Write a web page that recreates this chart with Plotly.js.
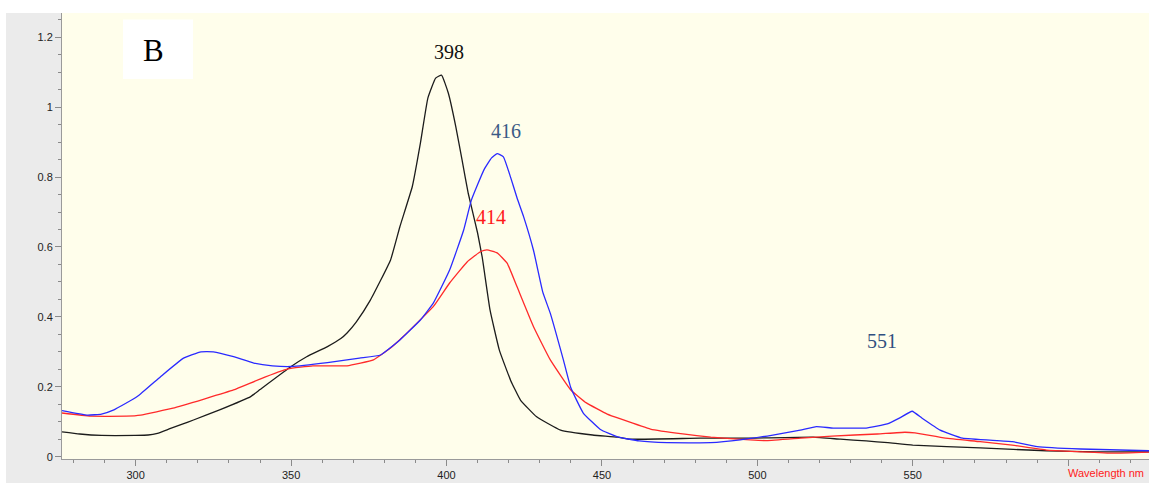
<!DOCTYPE html>
<html>
<head>
<meta charset="utf-8">
<script src="https://cdn.plot.ly/plotly-3.0.1.min.js"></script>
<style>html,body{margin:0;padding:0;background:#fff;}#chart{width:1149px;height:483px;}</style>
</head>
<body>
<div id="chart"></div>
<script>
// Wavelength (nm) and absorbance readings for each spectrum
const blackWl = [276.3,282,289,300,304,307,311,315,318.6,327,337,340,350,355,361.7,366,368,371,375.5,382,385,389,391.6,394,396.5,398.4,400.6,403,405,407,410,411.5,414,417,420.6,423.8,429,436.7,447,455,459,481.7,497.7,518,526.7,535,542,550,571.7,593,609,626];
const blackAbs = [0.071,0.065,0.061,0.061,0.062,0.067,0.080,0.093,0.105,0.134,0.172,0.192,0.258,0.286,0.315,0.338,0.354,0.386,0.448,0.563,0.658,0.773,0.897,1.026,1.083,1.092,1.040,0.944,0.849,0.753,0.640,0.570,0.420,0.305,0.219,0.162,0.114,0.076,0.062,0.056,0.050,0.053,0.053,0.056,0.050,0.045,0.040,0.033,0.025,0.017,0.014,0.014];

const blueWl = [276.3,284.5,289,293,300.5,308,315.4,321,325,331.5,338,344,350,361.7,372,378.8,385,391.6,395.8,401,405.5,408,412,414.5,416.3,418.3,420.6,422.7,424.8,428,431,433.4,437.6,440,444,449.5,455,462,471,485,494.5,505,513.8,519,524.4,535,541.8,546,549.8,553,558.8,566,582,590,604,626];
const blueAbs = [0.132,0.119,0.122,0.134,0.172,0.229,0.282,0.300,0.300,0.286,0.268,0.260,0.258,0.269,0.282,0.291,0.334,0.391,0.440,0.534,0.648,0.734,0.820,0.855,0.867,0.858,0.800,0.740,0.687,0.590,0.470,0.410,0.277,0.197,0.125,0.078,0.057,0.045,0.040,0.040,0.048,0.062,0.076,0.086,0.082,0.082,0.094,0.112,0.130,0.110,0.076,0.053,0.043,0.029,0.022,0.017];

const redWl = [276.3,285.5,297,301.6,312,322,331.5,340,349,357,368,376.5,382,386,395.8,401,406.7,411,413,416.3,419.5,422.7,428,433.4,440,445,451.7,456,465.6,476,485,497.7,503,514,524,538.6,547.5,550.7,560.5,571.7,582,593,604,614.5,626];
const redAbs = [0.125,0.116,0.116,0.119,0.139,0.165,0.191,0.222,0.251,0.260,0.260,0.277,0.311,0.343,0.430,0.497,0.558,0.587,0.592,0.583,0.554,0.486,0.372,0.277,0.191,0.154,0.122,0.108,0.079,0.065,0.056,0.048,0.046,0.053,0.059,0.065,0.070,0.068,0.053,0.043,0.033,0.019,0.014,0.010,0.013];

// Peak labels and where they sit
const peakLabels = ["398","416","414","551"];
const peakWl = [400.8,419.0,414.4,540.1];
const peakAbs = [1.158,0.932,0.687,0.331];
const peakColors = ["#111111","#3b5b86","#ff1a1a","#2f4f7f"];

// X tick labels
const xTickVals = [300,350,400,450,500,550,600];
const xTickText = ["300","350","400","450","500","550",""];

const W = 1149, H = 483;
const mL = 62, mR = 0, mT = 13, mB = 24;
const plotW = W - mL - mR, plotH = H - mT - mB;
function px2paperX(px){ return (px - mL) / plotW; }
function px2paperY(py){ return (H - mB - py) / plotH; }

const lineShape = {shape: 'spline', smoothing: 0.35};
const traces = [
  {x: blackWl, y: blackAbs, mode: 'lines', line: Object.assign({color: '#1c1c1c', width: 1.3}, lineShape), hoverinfo: 'skip'},
  {x: redWl, y: redAbs, mode: 'lines', line: Object.assign({color: '#ff2a2a', width: 1.3}, lineShape), hoverinfo: 'skip'},
  {x: blueWl, y: blueAbs, mode: 'lines', line: Object.assign({color: '#2a2aff', width: 1.3}, lineShape), hoverinfo: 'skip'}
];

const annotations = peakLabels.map((t, i) => ({
  x: peakWl[i], y: peakAbs[i], xref: 'x', yref: 'y', text: t, showarrow: false,
  font: {family: 'Liberation Serif, Times New Roman, serif', size: 20, color: peakColors[i]},
  xanchor: 'center', yanchor: 'middle'
}));
annotations.push({
  x: px2paperX(153.5), y: px2paperY(50), xref: 'paper', yref: 'paper', text: 'B', showarrow: false,
  font: {family: 'Liberation Serif, Times New Roman, serif', size: 31, color: '#000'},
  xanchor: 'center', yanchor: 'middle'
});
annotations.push({
  x: px2paperX(1146), y: px2paperY(473), xref: 'paper', yref: 'paper', text: 'Wavelength nm', showarrow: false,
  font: {family: 'Liberation Sans, Arial, sans-serif', size: 11, color: '#ff2020'},
  xanchor: 'right', yanchor: 'middle'
});

const shapes = [
  {type: 'rect', xref: 'paper', yref: 'paper', x0: px2paperX(123), x1: px2paperX(193), y0: px2paperY(79), y1: px2paperY(19.5), fillcolor: '#ffffff', line: {width: 0}, layer: 'above'},
  {type: 'rect', xref: 'paper', yref: 'paper', x0: px2paperX(0), x1: px2paperX(W), y0: px2paperY(13), y1: px2paperY(0), fillcolor: '#ffffff', line: {width: 0}},
  {type: 'rect', xref: 'paper', yref: 'paper', x0: px2paperX(0), x1: px2paperX(6), y0: px2paperY(H), y1: px2paperY(0), fillcolor: '#ffffff', line: {width: 0}}
];

const layout = {
  width: W, height: H,
  margin: {l: mL, r: mR, t: mT, b: mB, pad: 0},
  paper_bgcolor: '#ebebeb',
  plot_bgcolor: '#fffeeb',
  showlegend: false,
  font: {family: 'Liberation Sans, Arial, sans-serif', size: 11, color: '#222'},
  xaxis: {
    range: [276.3, 626.0], showgrid: false, zeroline: false,
    showline: true, linecolor: '#9a9a9a', linewidth: 1,
    ticks: 'outside', ticklen: 6, tickcolor: '#8a8a8a', tickwidth: 1,
    tickmode: 'array', tickvals: xTickVals, ticktext: xTickText,
    minor: {ticks: 'outside', ticklen: 3, tickcolor: '#8a8a8a', dtick: 10, tick0: 300, showgrid: false},
    tickfont: {size: 11, color: '#222'}
  },
  yaxis: {
    range: [-0.0066, 1.2695], showgrid: false, zeroline: false,
    showline: true, linecolor: '#9a9a9a', linewidth: 1,
    ticks: 'outside', ticklen: 6, tickcolor: '#8a8a8a', tickwidth: 1,
    tick0: 0, dtick: 0.2,
    minor: {ticks: 'outside', ticklen: 3, tickcolor: '#8a8a8a', dtick: 0.05, tick0: 0, showgrid: false},
    tickfont: {size: 11, color: '#222'}
  },
  annotations: annotations,
  shapes: shapes
};

Plotly.newPlot('chart', traces, layout, {staticPlot: true, displayModeBar: false});
</script>
</body>
</html>
